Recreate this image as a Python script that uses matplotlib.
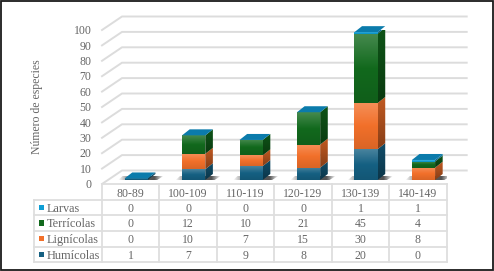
import numpy as np
import matplotlib
matplotlib.use("Agg")
import matplotlib.pyplot as plt
from matplotlib.colors import LinearSegmentedColormap, to_rgb
from matplotlib.patches import Polygon, Rectangle

plt.rcParams['font.family'] = ['Liberation Serif', 'DejaVu Serif']

categories = ["80-89", "100-109", "110-119", "120-129", "130-139", "140-149"]
humicolas = [1, 7, 9, 8, 20, 0]
lignicolas = [0, 10, 7, 15, 30, 8]
terricolas = [0, 12, 10, 21, 45, 4]
larvas = [0, 0, 0, 0, 1, 1]
series_names = ["Humícolas", "Lignícolas", "Terrícolas", "Larvas"]
series_colors = ["#156082", "#f2702a", "#12691d", "#0f9ed5"]
yticks = list(range(0, 101, 10))

W, H = 494, 271
TXT = "#666666"
GRID = "#dcdcdc"

# pixel layout of the front plane
LEFT, RIGHT = 102, 446.7
Y0, Y100 = 184, 30
PX_X = (RIGHT - LEFT) / 6
PX_Y = (Y0 - Y100) / 100

# depth of the walls and bars, in data units
wall_dx = 20 / PX_X
wall_dy = 13.5 / PX_Y
bar_w = 23.2 / PX_X
bar_dx = 7.6 / PX_X
bar_dy = 6 / PX_Y
bar_x = 5.5 / PX_X
bar_y = 4 / PX_Y


def shade(col, f):
    c = np.array(to_rgb(col))
    return tuple(c * f) if f <= 1 else tuple(c + (1 - c) * (f - 1))


def grad_poly(ax, pts, top, mid, bottom, z):
    pts = np.array(pts)
    cm = LinearSegmentedColormap.from_list("g", [top, mid, bottom])
    g = np.linspace(0, 1, 64).reshape(-1, 1)
    im = ax.imshow(g, cmap=cm, aspect="auto", zorder=z, origin="upper",
                   extent=(pts[:, 0].min(), pts[:, 0].max(), pts[:, 1].min(), pts[:, 1].max()))
    im.set_clip_path(Polygon(pts, transform=ax.transData))


def shadow(ax, pts, xa, xb, z):
    # dark in the middle, fading out to both ends
    pts = np.array(pts)
    t = np.linspace(0, 1, 64)
    a = np.interp(t, [0, 0.3, 0.8, 1], [0, 0.75, 0.85, 0])
    rgba = np.zeros((1, 64, 4))
    rgba[0, :, :3] = 0.2
    rgba[0, :, 3] = a
    im = ax.imshow(rgba, aspect="auto", zorder=z, interpolation="bilinear",
                   extent=(xa, xb, pts[:, 1].min(), pts[:, 1].max()))
    im.set_clip_path(Polygon(pts, transform=ax.transData))


fig = plt.figure(figsize=(W / 100, H / 100), dpi=100)
fig.patch.set_facecolor("white")
ax = fig.add_axes([LEFT / W, 1 - Y0 / H, (RIGHT - LEFT) / W, (Y0 - Y100) / H])
ax.axis("off")

# walls
xl = -0.5
xr = 5.5 + wall_dx
for v in yticks:
    ax.plot([xl, xl + wall_dx, xr], [v, v + wall_dy, v + wall_dy], color=GRID, lw=1.4,
            clip_on=False, zorder=1, solid_joinstyle="miter")
    ax.text(-0.5 - 10.5 / PX_X, v - 0.8, str(v), ha="right", va="center", color=TXT, fontsize=8.5, clip_on=False)

ax.text(-0.5 - 65 / PX_X, 50, "Número de especies", rotation=90, ha="center", va="center",
        color=TXT, fontsize=8.5, clip_on=False)

# bars
stack = [humicolas, lignicolas, terricolas, larvas]
for i in range(len(categories)):
    x0 = i - bar_w / 2 + bar_x
    x1 = x0 + bar_w
    # shadow on the floor
    sa = x0 - 7 / PX_X
    sb = x1 + bar_dx + 8 / PX_X
    shadow(ax, [(sa, bar_y - 0.3), (sa + 5 / PX_X, bar_y + 2.6), (sb, bar_y + 2.6), (sb - 7 / PX_X, bar_y - 0.3)],
           sa, sb, 2)
    base = bar_y
    for vals, col in zip(stack, series_colors):
        v = vals[i]
        if v == 0:
            continue
        top = base + v
        grad_poly(ax, [(x1, base), (x1 + bar_dx, base + bar_dy), (x1 + bar_dx, top + bar_dy), (x1, top)],
                  shade(col, 0.8), shade(col, 0.68), shade(col, 0.55), 3)
        ax.fill([x0, x1, x1, x0], [base, base, top, top], color=col, lw=0, zorder=3, clip_on=False)
        grad_poly(ax, [(x0, base), (x1, base), (x1, top), (x0, top)],
                  shade(col, 1.22), col, shade(col, 0.9), 4)
        base = top
    ax.fill([x0, x1, x1 + bar_dx, x0 + bar_dx], [base, base, base + bar_dy, base + bar_dy],
            color="#0b7bab", lw=0, zorder=5, clip_on=False)

ax.set_xlim(-0.5, 5.5)
ax.set_ylim(0, 100)

# data table below the plot
T_LEFT = 34
T_TOP, T_BOT = 184, 262.3
tb = fig.add_axes([T_LEFT / W, 1 - T_BOT / H, (RIGHT - T_LEFT) / W, (T_BOT - T_TOP) / H])
tb.axis("off")
key_w = (LEFT - T_LEFT) / PX_X
tb.set_xlim(-0.5 - key_w, 5.5)
tb.set_ylim(5, 0)
LINE = "#dedede"
for r in range(6):
    tb.plot([-0.5 - (key_w if r > 0 else 0), 5.5], [r, r], color=LINE, lw=1.3, clip_on=False, zorder=1)
for c in range(7):
    tb.plot([c - 0.5, c - 0.5], [0, 5], color=LINE, lw=1.3, clip_on=False, zorder=1)
tb.plot([-0.5 - key_w] * 2, [1, 5], color=LINE, lw=1.3, clip_on=False, zorder=1)

for c, name in enumerate(categories):
    tb.text(c, 0.64, name, ha="center", va="center", color=TXT, fontsize=8.5)
    for r, vals in enumerate(reversed(stack)):
        tb.text(c, r + 1.58, str(vals[c]), ha="center", va="center", color=TXT, fontsize=8.5)
for r, (name, col) in enumerate(zip(reversed(series_names), reversed(series_colors))):
    tb.add_patch(Rectangle((-0.5 - key_w + 4.5 / PX_X, r + 1.5 - 0.17), 5.5 / PX_X, 0.34, color=col, lw=0))
    tb.text(-0.5 - key_w + 12.5 / PX_X, r + 1.58, name, ha="left", va="center", color=TXT, fontsize=8.8)

# outer frame
fig.add_artist(Rectangle((0.5 / W, 1.5 / H), 492.5 / W, 268.5 / H, transform=fig.transFigure,
                         fill=False, ec="#1a1a1a", lw=1.3))

fig.savefig("out.png", dpi=100)
